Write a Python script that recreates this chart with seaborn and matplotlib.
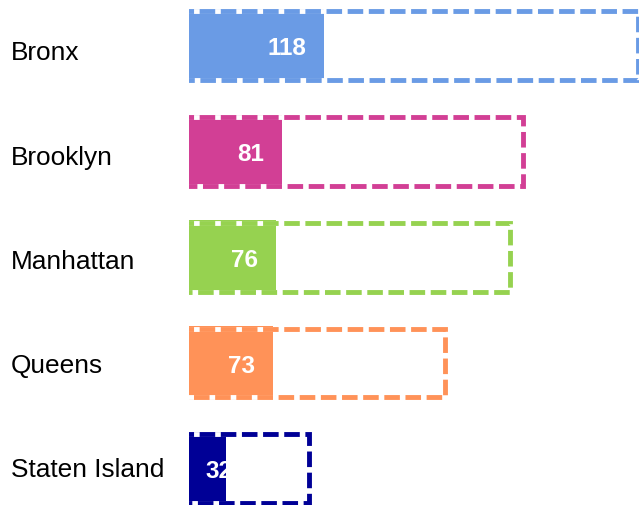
import numpy as np
import matplotlib
matplotlib.use("Agg")
import matplotlib.pyplot as plt
import seaborn as sns

# ---- data ----
boroughs = ["Bronx", "Brooklyn", "Manhattan", "Queens", "Staten Island"]
values = [118, 81, 76, 73, 32]
totals = [391, 291, 280, 223, 105]
colors = ["#6a9be5", "#d23f95", "#96d250", "#ff9258", "#000096"]

sns.set_theme(style="white")
plt.rcParams["font.family"] = ["Liberation Sans", "DejaVu Sans"]

W, H, DPI = 639, 506, 100
fig = plt.figure(figsize=(W / DPI, H / DPI), dpi=DPI)
ax = fig.add_axes([189 / W, 0, (W - 189) / W, 1])

# filled bars
sns.barplot(x=values, y=boroughs, hue=boroughs, palette=colors, orient="h",
            width=0.693, saturation=1, legend=False, ax=ax, linewidth=0)

pos = np.arange(len(boroughs))
lw = 3.5
pad = 10
tot = np.array(totals, dtype=float)
# white underlay so the gaps of the dashes show white
ax.barh(pos, tot + pad, left=-pad, height=0.65, facecolor="none",
        edgecolor="white", linewidth=lw, zorder=3)
for i, (t, c) in enumerate(zip(totals, colors)):
    ax.barh(pos[i], t + pad, left=-pad, height=0.65, facecolor="none",
            edgecolor=c, linewidth=lw, linestyle=(0, (3.2, 1.15)), zorder=4)

ax.set_xlim(0, 392.3)
ax.set_ylim(4.343, -0.44)
for s in ax.spines.values():
    s.set_visible(False)
ax.set_xticks([])
ax.set_yticks([])
ax.set_xlabel("")
ax.set_ylabel("")

# value labels
for i, v in enumerate(values):
    if v > 40:
        ax.text(v - 15.7, i + 0.02, str(v), ha="right", va="center",
                color="white", fontsize=17.5, fontweight="bold", zorder=5)
    else:
        ax.text(14, i + 0.02, str(v), ha="left", va="center",
                color="white", fontsize=17.5, fontweight="bold", zorder=2.5)

# category labels (own vertical rhythm, baseline in pixels from top)
for i, name in enumerate(boroughs):
    base_px = 60.3 + 104.2 * i
    fig.text(11.0 / W, 1 - base_px / H, name, ha="left",
             va="baseline", fontsize=18.9, color="black")

fig.savefig("out.png", dpi=DPI)
